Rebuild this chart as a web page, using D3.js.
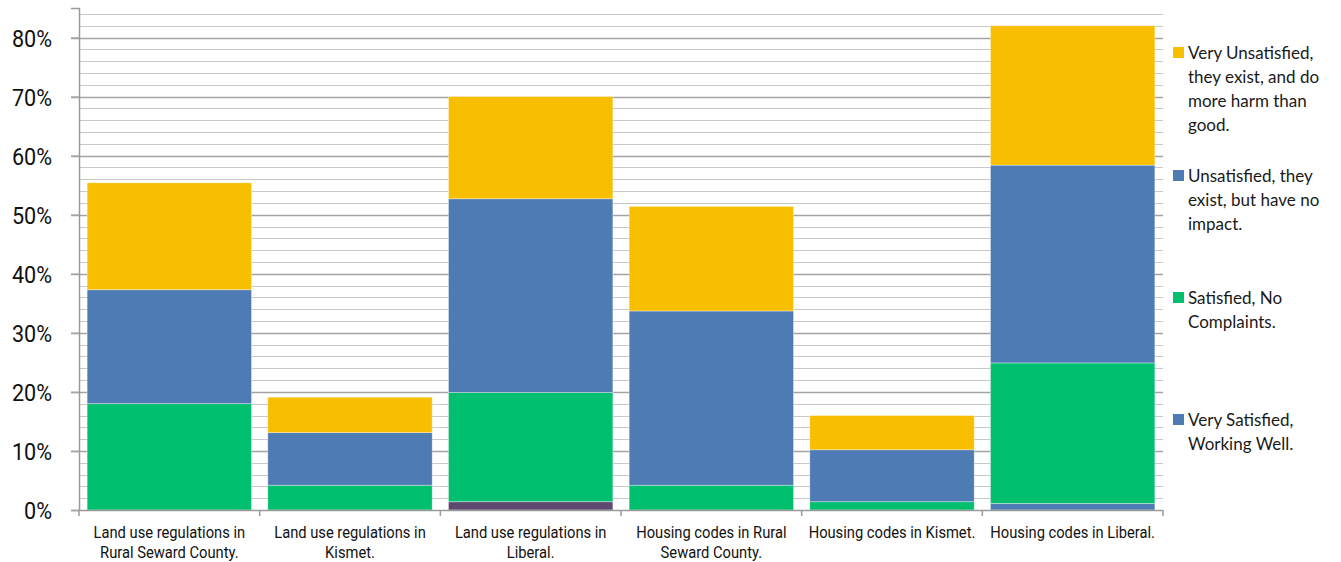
<!DOCTYPE html>
<html>
<head>
<meta charset="utf-8">
<script src="https://cdn.jsdelivr.net/npm/d3@7"></script>
<style>
  html, body { margin: 0; padding: 0; background: #fff; }
  svg { display: block; }
</style>
</head>
<body>
<svg id="chart" width="1341" height="562"></svg>
<script>
// Survey categories (x axis), two lines each
const categories = [
  ["Land use regulations in", "Rural Seward County."],
  ["Land use regulations in", "Kismet."],
  ["Land use regulations in", "Liberal."],
  ["Housing codes in Rural", "Seward County."],
  ["Housing codes in Kismet."],
  ["Housing codes in Liberal."]
];

// Share of respondents per answer (percent), bottom to top of each stack
const verySatisfied   = [0.0, 0.0, 1.4, 0.0, 0.0, 1.1];
const satisfied       = [18.0, 4.2, 18.5, 4.2, 1.4, 23.8];
const unsatisfied     = [19.3, 8.9, 32.8, 29.5, 8.8, 33.5];
const veryUnsatisfied = [18.1, 6.0, 17.3, 17.7, 5.8, 23.6];

const yTicks = [0, 10, 20, 30, 40, 50, 60, 70, 80];

const seriesNames = [
  ["Very Unsatisfied,", "they exist, and do", "more harm than", "good."],
  ["Unsatisfied, they", "exist, but have no", "impact."],
  ["Satisfied, No", "Complaints."],
  ["Very Satisfied,", "Working Well."]
];

const colors = {
  veryUnsatisfied: "#f8be00",
  unsatisfied: "#4f7bb4",
  satisfied: "#00bf6f",
  verySatisfied: "#4f7bb4"
};
// one point of the bottom series carries its own fill
const pointFill = { "verySatisfied-2": "#5f4a6f" };

const keys = ["verySatisfied", "satisfied", "unsatisfied", "veryUnsatisfied"];
const table = categories.map((c, i) => ({
  idx: i,
  verySatisfied: verySatisfied[i],
  satisfied: satisfied[i],
  unsatisfied: unsatisfied[i],
  veryUnsatisfied: veryUnsatisfied[i]
}));

const svg = d3.select("#chart");
const plotLeft = 79, plotRight = 1163, plotTop = 8, plotBottom = 510;
const narrow = 0.92; // horizontal squeeze for the axis lettering

const x = d3.scaleBand()
  .domain(d3.range(categories.length))
  .range([plotLeft, plotRight])
  .paddingInner(0.09)
  .paddingOuter(0.045);

const y = d3.scaleLinear().domain([0, 85]).range([plotBottom, plotTop]);

// gridlines: minor every 2%, major every 10%
const minor = d3.range(2, 85, 2).filter(v => v % 10 !== 0);
svg.append("g").selectAll("line").data(minor).join("line")
  .attr("x1", plotLeft).attr("x2", plotRight)
  .attr("y1", d => Math.round(y(d)) + 0.5).attr("y2", d => Math.round(y(d)) + 0.5)
  .attr("stroke", "#c9c9c9").attr("stroke-width", 1.2);

svg.append("g").selectAll("line").data(yTicks.filter(v => v > 0)).join("line")
  .attr("x1", plotLeft - 8).attr("x2", plotRight)
  .attr("y1", d => Math.round(y(d)) + 0.5).attr("y2", d => Math.round(y(d)) + 0.5)
  .attr("stroke", "#a3a3a3").attr("stroke-width", 1.5);

// stacked bars
const stack = d3.stack().keys(keys)(table);
svg.append("g").selectAll("g").data(stack).join("g")
  .selectAll("rect").data(s => s.map(d => ({ key: s.key, d }))).join("rect")
  .attr("x", p => x(p.d.data.idx))
  .attr("width", x.bandwidth())
  .attr("y", p => y(p.d[1]))
  .attr("height", p => y(p.d[0]) - y(p.d[1]))
  .attr("fill", p => pointFill[p.key + "-" + p.d.data.idx] || colors[p.key])
  .attr("stroke", "#ffffff").attr("stroke-opacity", 0.45).attr("stroke-width", 0.8);

// y axis
const yAxis = d3.axisLeft(y).tickValues(yTicks).tickSize(8).tickFormat(d => d + "%");
const gy = svg.append("g").attr("transform", `translate(${plotLeft},0)`).call(yAxis);
gy.select(".domain").attr("stroke", "#9a9a9a").attr("stroke-width", 1.5);
gy.selectAll(".tick line").attr("stroke", "#a3a3a3").attr("stroke-width", 1.5);
gy.selectAll(".tick text")
  .attr("x", -27 / narrow)
  .attr("dy", "0.37em")
  .attr("transform", `scale(${narrow},1)`)
  .style("font-family", "Roboto, sans-serif")
  .style("font-size", "23.5px")
  .attr("fill", "#111");

// x axis: baseline with ticks at category boundaries
const gx = svg.append("g");
gx.append("line").attr("x1", plotLeft).attr("x2", plotRight)
  .attr("y1", plotBottom + 0.5).attr("y2", plotBottom + 0.5)
  .attr("stroke", "#9a9a9a").attr("stroke-width", 1.5);
const step = x.step();
gx.selectAll("line.t").data(d3.range(categories.length + 1)).join("line")
  .attr("class", "t")
  .attr("x1", i => plotLeft + i * step).attr("x2", i => plotLeft + i * step)
  .attr("y1", plotBottom).attr("y2", plotBottom + 6)
  .attr("stroke", "#9a9a9a").attr("stroke-width", 1.5);

const labelGroups = gx.selectAll("g.cat").data(categories).join("g")
  .attr("class", "cat")
  .attr("transform", (c, i) => `translate(${x(i) + x.bandwidth() / 2},538)`);
const labels = labelGroups.append("text")
  .attr("transform", `scale(${narrow},1)`)
  .attr("text-anchor", "middle")
  .style("font-family", "Roboto, sans-serif")
  .style("font-size", "16px")
  .attr("fill", "#111");
labels.selectAll("tspan").data(c => c).join("tspan")
  .attr("x", 0)
  .attr("dy", (t, j) => j === 0 ? 0 : 20)
  .text(t => t);

// legend
const legendTops = [47, 170, 292, 414];
const legendColors = [colors.veryUnsatisfied, colors.unsatisfied, colors.satisfied, colors.verySatisfied];
const lg = svg.append("g");
seriesNames.forEach((lines, k) => {
  lg.append("rect")
    .attr("x", 1173).attr("y", legendTops[k])
    .attr("width", 11).attr("height", 11)
    .attr("fill", legendColors[k]);
  const t = lg.append("text")
    .attr("x", 1188).attr("y", legendTops[k] + 11.5)
    .style("font-family", "Lato, sans-serif")
    .style("font-size", "17px")
    .attr("fill", "#1a1a1a");
  t.selectAll("tspan").data(lines).join("tspan")
    .attr("x", 1188)
    .attr("dy", (s, j) => j === 0 ? 0 : 24)
    .text(s => s);
});
</script>
</body>
</html>
